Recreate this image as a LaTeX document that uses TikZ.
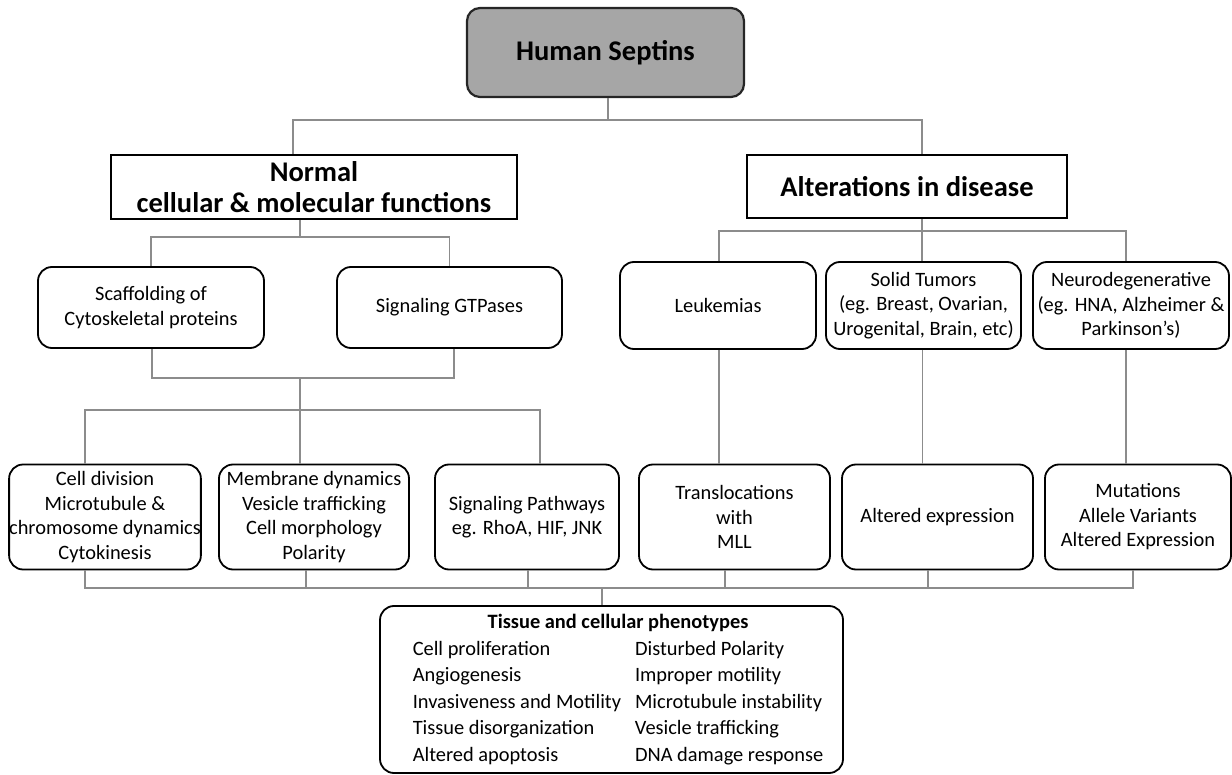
\documentclass[tikz,border=0pt]{standalone}
\usepackage{fontspec}
\setmainfont{Carlito}
\begin{document}
\begin{tikzpicture}[x=1pt,y=-1pt,
    root/.style={draw=black!85,fill=black!35,line width=2.2pt,rounded corners=13pt,
        inner sep=0pt,font=\fontsize{28.5}{33}\selectfont\bfseries},
    head/.style={draw=black,line width=2.2pt,align=center,inner sep=0pt,
        font=\fontsize{28.5}{31}\selectfont\bfseries},
    box/.style={draw=black,line width=1.8pt,rounded corners=14pt,align=center,
        inner sep=0pt,font=\fontsize{20.4}{24.5}\selectfont},
    link/.style={draw=black!45,line width=1.4pt}]
    \useasboundingbox (0,0) rectangle (1232,775);
    % top levels
    \node[root,minimum width=277pt,minimum height=89pt] (hs) at (605.5,52.5) {Human Septins};
    \node[head,minimum width=406pt,minimum height=64pt] (nf) at (314,187) {Normal\\cellular \& molecular functions};
    \node[head,minimum width=320pt,minimum height=63pt] (ad) at (907,186.5) {Alterations in disease};
    % second row
    \node[box,minimum width=226pt,minimum height=81pt] (sc) at (151,307.5) {Scaffolding of\\Cytoskeletal proteins};
    \node[box,minimum width=225pt,minimum height=81pt] (sg) at (449.5,307.5) {Signaling GTPases};
    \node[box,minimum width=196pt,minimum height=87pt] (le) at (718,305.5) {Leukemias};
    \node[box,minimum width=195pt,minimum height=87pt] (st) at (923.5,305.5) {Solid Tumors\\(eg. Breast, Ovarian,\\Urogenital, Brain, etc)};
    \node[box,minimum width=196pt,minimum height=87pt] (nd) at (1131,305.5) {Neurodegenerative\\(eg. HNA, Alzheimer \&\\Parkinson’s)};
    % third row
    \node[box,minimum width=190pt,minimum height=105pt] (cd) at (105,517) {Cell division\\Microtubule \&\\chromosome dynamics\\Cytokinesis};
    \node[box,minimum width=190pt,minimum height=105pt] (md) at (314,517) {Membrane dynamics\\Vesicle trafficking\\Cell morphology\\Polarity};
    \node[box,minimum width=184pt,minimum height=105pt] (sp) at (527,517) {Signaling Pathways\\eg. RhoA, HIF, JNK};
    \node[box,minimum width=191pt,minimum height=105pt] (tr) at (734.5,517) {Translocations\\with\\MLL};
    \node[box,minimum width=191pt,minimum height=105pt] (ae) at (937.5,517) {Altered expression};
    \node[box,minimum width=186pt,minimum height=105pt] (mu) at (1138,517) {Mutations\\Allele Variants\\Altered Expression};
    % phenotypes
    \node[box,minimum width=463pt,minimum height=167pt,font=\fontsize{20.4}{26.5}\selectfont] (ph) at (611.5,689.5)
     {\hspace{13pt}\setlength{\tabcolsep}{7pt}\begin{tabular}{ll}
      \multicolumn{2}{c}{\bfseries Tissue and cellular phenotypes}\\
      Cell proliferation & Disturbed Polarity\\
      Angiogenesis & Improper motility\\
      Invasiveness and Motility & Microtubule instability\\
      Tissue disorganization & Vesicle trafficking\\
      Altered apoptosis & DNA damage response
     \end{tabular}};
    % connectors
    \coordinate (j1) at (608,120);
    \draw[link] (hs.south -| j1) -- (j1);
    \draw[link] ([xshift=-21pt]nf.north) |- (j1) -| ([xshift=15pt]ad.north);
    \coordinate (j2) at (300,237);
    \draw[link] (nf.south -| j2) -- (j2);
    \draw[link] (sc.north) |- (j2) -| (sg.north);
    \coordinate (j3) at (300,378);
    \coordinate (j4) at (300,410);
    \draw[link] ([xshift=1pt]sc.south) |- (j3) -| ([xshift=4.5pt]sg.south);
    \draw[link] (j3) -- (j4);
    \draw[link] ([xshift=-20pt]cd.north) |- (j4) -| ([xshift=13pt]sp.north);
    \draw[link] (j4) -- (md.north -| j4);
    \coordinate (j5) at (922,231);
    \draw[link] (ad.south -| j5) -- (j5);
    \draw[link] ([xshift=1pt]le.north) |- (j5) -| ([xshift=-5pt]nd.north);
    \draw[link] (j5) -- (st.north -| j5);
    \draw[link] ([xshift=1pt]le.south) -- ([xshift=-15.5pt]tr.north);
    \draw[link] ([xshift=-1pt]st.south) -- ([xshift=-15pt]ae.north);
    \draw[link] ([xshift=-5pt]nd.south) -- ([xshift=-12pt]mu.north);
    \coordinate (j6) at (602,588);
    \draw[link] ([xshift=-20pt]cd.south) |- (j6) -| ([xshift=-5pt]mu.south);
    \foreach \n/\s in {md/-8,sp/1,tr/-9.5,ae/-9.5}
        \draw[link] ([xshift=\s pt]\n.south) -- ([xshift=\s pt]\n.south |- j6);
    \draw[link] (j6) -- (ph.north -| j6);
\end{tikzpicture}
\end{document}
